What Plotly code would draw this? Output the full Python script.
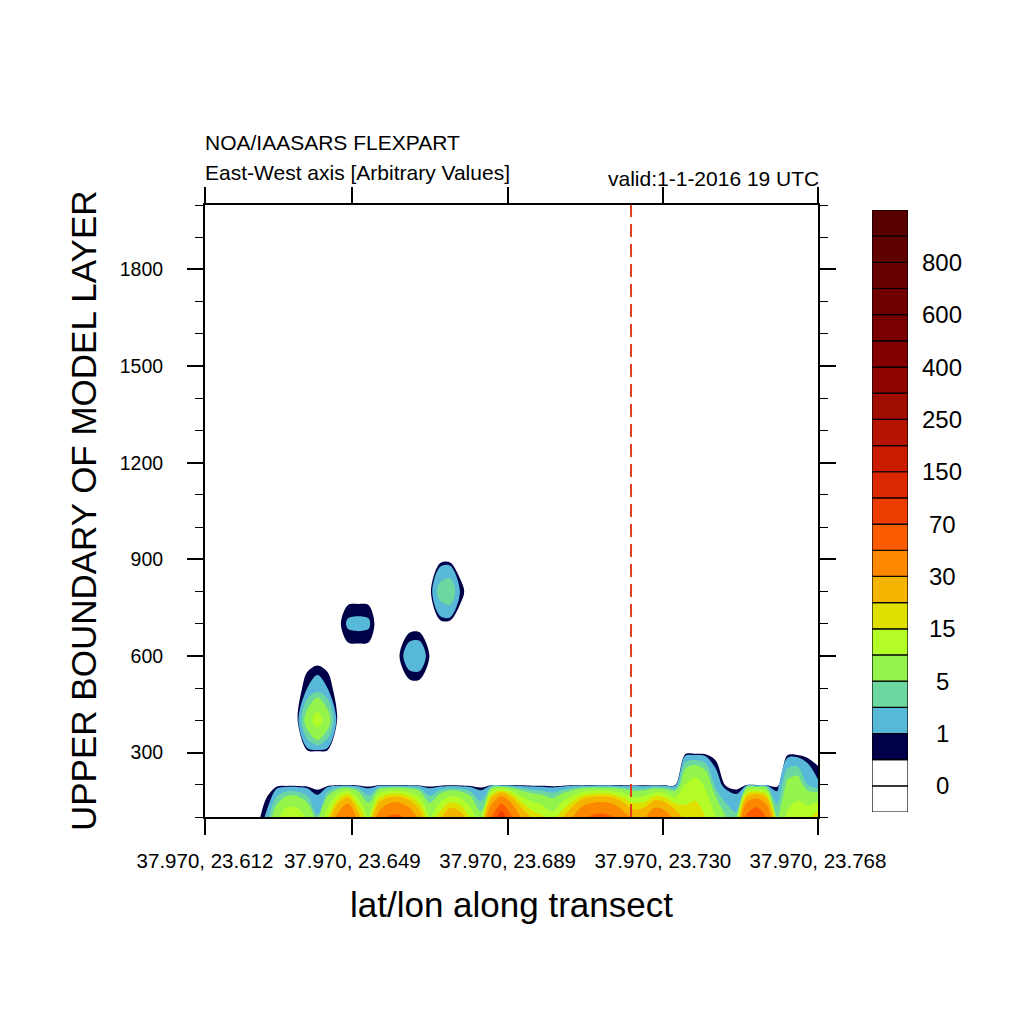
import plotly.graph_objects as go

# ------------------------------------------------------------------ data
# transect grid points (East-West axis, arbitrary units) and model layer tops
x_index = list(range(61))
heights = [100, 200, 300, 400, 500, 600, 700, 800, 900, 1000]

# concentration per model layer along the transect (61 grid points each)
conc_100 = [0, 0, 0, 0, 0, 0, 1.2, 8, 14.5, 14,
            9, 3.2, 14, 34, 52, 24, 9, 36, 52, 54,
            42, 26, 9, 18, 28, 24, 14, 6, 48, 85,
            52, 28, 19, 16, 12, 19, 30, 46, 54, 56,
            50, 36, 26, 28, 42, 38, 26, 18, 17, 15,
            10, 5, 3.5, 55, 72, 48, 5, 11, 13, 14,
            18]
conc_200 = [0, 0, 0, 0, 0, 0, 0, 0, 0, 0,
            0, 0, 0, 0, 0, 0, 0, 0, 0, 0,
            0, 0, 0, 0, 0, 0, 0, 0, 0, 0,
            0, 0, 0, 0, 0, 0, 0, 0, 0, 0,
            0, 0, 0, 0, 0, 0, 0, 10, 13, 9,
            2, 0.3, 0, 0, 0, 0, 0, 6, 7, 3,
            1.2]
conc_300 = [0] * 61
conc_400 = [0, 0, 0, 0, 0, 0, 0, 0, 0, 0,
            7, 13, 7, 0, 0, 0, 0, 0, 0, 0,
            0, 0, 0, 0, 0, 0, 0, 0, 0, 0,
            0, 0, 0, 0, 0, 0, 0, 0, 0, 0,
            0, 0, 0, 0, 0, 0, 0, 0, 0, 0,
            0, 0, 0, 0, 0, 0, 0, 0, 0, 0,
            0]
conc_500 = [0, 0, 0, 0, 0, 0, 0, 0, 0, 0,
            1.0, 1.7, 1.0, 0, 0, 0, 0, 0, 0, 0,
            0, 0, 0, 0, 0, 0, 0, 0, 0, 0,
            0, 0, 0, 0, 0, 0, 0, 0, 0, 0,
            0, 0, 0, 0, 0, 0, 0, 0, 0, 0,
            0, 0, 0, 0, 0, 0, 0, 0, 0, 0,
            0]
conc_600 = [0, 0, 0, 0, 0, 0, 0, 0, 0, 0,
            0, 0, 0, 0, 0, 0, 0, 0, 0, 0.45,
            1.8, 1.9, 0.45, 0, 0, 0, 0, 0, 0, 0,
            0, 0, 0, 0, 0, 0, 0, 0, 0, 0,
            0, 0, 0, 0, 0, 0, 0, 0, 0, 0,
            0, 0, 0, 0, 0, 0, 0, 0, 0, 0,
            0]
conc_700 = [0, 0, 0, 0, 0, 0, 0, 0, 0, 0,
            0, 0, 0, 0.2, 1.2, 1.3, 1.2, 0, 0, 0,
            0, 0, 0, 0, 0, 0, 0, 0, 0, 0,
            0, 0, 0, 0, 0, 0, 0, 0, 0, 0,
            0, 0, 0, 0, 0, 0, 0, 0, 0, 0,
            0, 0, 0, 0, 0, 0, 0, 0, 0, 0,
            0]
conc_800 = [0, 0, 0, 0, 0, 0, 0, 0, 0, 0,
            0, 0, 0, 0, 0, 0, 0, 0, 0, 0,
            0, 0, 0, 4.2, 5.1, 0.8, 0, 0, 0, 0,
            0, 0, 0, 0, 0, 0, 0, 0, 0, 0,
            0, 0, 0, 0, 0, 0, 0, 0, 0, 0,
            0, 0, 0, 0, 0, 0, 0, 0, 0, 0,
            0]
conc_900 = [0] * 61
conc_1000 = [0] * 61

# contour levels and the 23 label-bar colours (bottom to top)
levels = [0, 0.5, 1, 3, 5, 10, 15, 20, 30, 50, 70,
          100, 150, 200, 250, 300, 400, 500, 600, 700, 800, 900]
level_colors = ["#ffffff", "#ffffff", "#000048", "#58b8d8", "#6cd8a0",
                "#94f44c", "#b4fc28", "#e0e000", "#f4b400", "#fc8800",
                "#fc5c00", "#ec3c00", "#dc2800", "#cc1c00", "#b41400",
                "#a00c00", "#900400", "#820000", "#780000", "#700000",
                "#680000", "#600000", "#580000"]

# x tick labels (lat/lon along transect) and where they sit on the grid
tick_labels = ["37.970, 23.612", "37.970, 23.649", "37.970, 23.689",
               "37.970, 23.730", "37.970, 23.768"]
tick_positions = [0, 14.42, 29.62, 44.81, 60]

station_index = 41.7   # dashed marker along the transect

# ------------------------------------------------------------------ layout helpers
# the page draws the figure 8 px in from the top-left corner
OFF = 8
SIZE = 1016


def fx(p):
    return (p - OFF) / SIZE


def fy(p):
    return 1 - (p - OFF) / SIZE


FONT = "Liberation Sans, Arial, Helvetica, sans-serif"
z = [conc_100, conc_200, conc_300, conc_400, conc_500,
     conc_600, conc_700, conc_800, conc_900, conc_1000]

fig = go.Figure()

# one filled contour per level: area >= level gets that level's colour
for k in range(1, len(levels)):
    col = level_colors[k + 1]
    clear = "rgba(255,255,255,0)"
    fig.add_trace(go.Contour(
        x=x_index, y=heights, z=z,
        autocontour=False,
        contours=dict(start=levels[k], end=levels[k], size=1,
                      coloring="fill", showlines=False),
        colorscale=[[0, clear], [0.5, clear], [0.5, col], [1, col]],
        line=dict(width=0, smoothing=0.9),
        showscale=False, hoverinfo="skip",
        xaxis="x", yaxis="y",
    ))

# dashed marker line
fig.add_trace(go.Scatter(
    x=[station_index, station_index], y=[100, 2000], mode="lines",
    line=dict(color="#e23c1c", width=2, dash="13px,7px"),
    hoverinfo="skip", showlegend=False, xaxis="x", yaxis="y",
))

# label bar drawn as stacked boxes on its own axes
n_box = len(level_colors)
fig.add_trace(go.Bar(
    x=[0] * n_box, y=[1] * n_box, base=list(range(n_box)), width=1,
    marker=dict(color=level_colors, line=dict(color="black", width=1.2)),
    hoverinfo="skip", showlegend=False, xaxis="x2", yaxis="y2",
))

annotations = []
for k in range(0, len(levels), 2):
    annotations.append(dict(
        x=fx(942), xref="paper", y=k + 1, yref="y2",
        text=f"{levels[k]:g}", showarrow=False,
        xanchor="center", yanchor="middle",
        font=dict(family=FONT, size=24, color="black"),
    ))

annotations += [
    dict(x=fx(203), y=fy(142), xref="paper", yref="paper",
         text="NOA/IAASARS FLEXPART", showarrow=False,
         xanchor="left", yanchor="middle",
         font=dict(family=FONT, size=21, color="black")),
    dict(x=fx(203), y=fy(173), xref="paper", yref="paper",
         text="East-West axis [Arbitrary Values]", showarrow=False,
         xanchor="left", yanchor="middle",
         font=dict(family=FONT, size=21, color="black")),
    dict(x=fx(821), y=fy(178), xref="paper", yref="paper",
         text="valid:1-1-2016 19 UTC", showarrow=False,
         xanchor="right", yanchor="middle",
         font=dict(family=FONT, size=21, color="black")),
    dict(x=fx(511), y=fy(904), xref="paper", yref="paper",
         text="lat/lon along transect", showarrow=False,
         xanchor="center", yanchor="middle",
         font=dict(family=FONT, size=35, color="black")),
    dict(x=fx(83), y=fy(511), xref="paper", yref="paper",
         text="UPPER BOUNDARY OF MODEL LAYER", showarrow=False,
         textangle=-90, xanchor="center", yanchor="middle",
         font=dict(family=FONT, size=35, color="black")),
]

fig.update_layout(
    width=SIZE, height=SIZE,
    margin=dict(l=0, r=0, t=0, b=0, autoexpand=False),
    paper_bgcolor="white", plot_bgcolor="white",
    showlegend=False,
    annotations=annotations,
    xaxis=dict(
        domain=[fx(205), fx(818)], range=[0, 60], automargin=False,
        tickmode="array", tickvals=tick_positions, ticktext=tick_labels,
        tickangle=0,
        ticks="outside", ticklen=16, tickwidth=1.6, tickcolor="black",
        showline=True, linewidth=2, linecolor="black", mirror="ticks",
        showgrid=False, zeroline=False,
        tickfont=dict(family=FONT, size=20.5, color="black"),
        ticklabelstandoff=8,
    ),
    yaxis=dict(
        domain=[fy(817), fy(205)], range=[100, 2000], automargin=False,
        tick0=0, dtick=300,
        ticks="outside", ticklen=16, tickwidth=1.6, tickcolor="black",
        minor=dict(dtick=100, tick0=0, ticks="outside", ticklen=8,
                   tickwidth=1.2, tickcolor="black", showgrid=False),
        showline=True, linewidth=2, linecolor="black", mirror="ticks",
        showgrid=False, zeroline=False,
        tickfont=dict(family=FONT, size=19.5, color="black"),
        ticklabelstandoff=20,
    ),
    xaxis2=dict(domain=[fx(872), fx(908)], range=[-0.5, 0.5],
                visible=False, fixedrange=True, anchor="y2",
                automargin=False),
    yaxis2=dict(domain=[fy(812), fy(210)], range=[0, n_box],
                visible=False, anchor="x2", fixedrange=True,
                automargin=False),
)

fig.write_html("out.html")
